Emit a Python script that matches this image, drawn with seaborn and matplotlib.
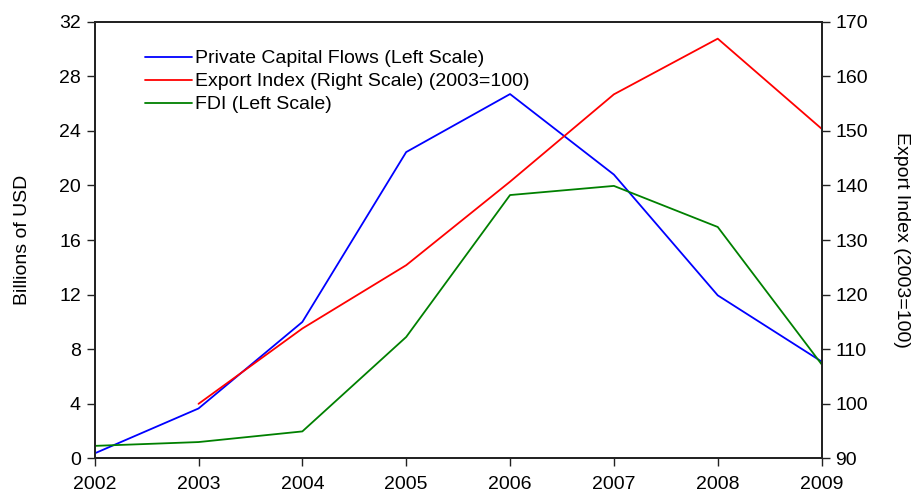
import matplotlib
matplotlib.use("Agg")
import matplotlib.pyplot as plt
import seaborn as sns
import pandas as pd

years = [2002, 2003, 2004, 2005, 2006, 2007, 2008, 2009]
private_flows = [0.37, 3.66, 10.0, 22.45, 26.7, 20.8, 11.95, 7.1]
fdi = [0.92, 1.2, 1.98, 8.9, 19.3, 19.97, 16.96, 6.9]
export_years = [2003, 2004, 2005, 2006, 2007, 2008, 2009]
export_index = [100.0, 113.8, 125.4, 140.7, 156.7, 166.9, 150.4]

left_ticks = [0, 4, 8, 12, 16, 20, 24, 28, 32]
right_ticks = [90, 100, 110, 120, 130, 140, 150, 160, 170]

sns.set_style("white")
plt.rcParams['font.family'] = ['Liberation Sans', 'DejaVu Sans']
plt.rcParams['text.color'] = 'black'
plt.rcParams['axes.labelcolor'] = 'black'
plt.rcParams['xtick.color'] = 'black'
plt.rcParams['ytick.color'] = 'black'

df_left = pd.DataFrame({"year": years, "pcf": private_flows, "fdi": fdi})
df_right = pd.DataFrame({"year": export_years, "exp": export_index})

fig, ax = plt.subplots(figsize=(9.19, 4.94), dpi=100)
fig.subplots_adjust(left=0.103, right=0.894, top=0.956, bottom=0.072)
ax2 = ax.twinx()

lw = 1.3
sns.lineplot(data=df_left, x="year", y="pcf", ax=ax, color="#0000ff", lw=lw,
             label="Private Capital Flows (Left Scale)", legend=False)
sns.lineplot(data=df_right, x="year", y="exp", ax=ax2, color="#ff0000", lw=lw,
             label="Export Index (Right Scale) (2003=100)", legend=False)
sns.lineplot(data=df_left, x="year", y="fdi", ax=ax, color="#008000", lw=lw,
             label="FDI (Left Scale)", legend=False)

fs = 14
ax.set_xlim(2002, 2009)
ax.set_ylim(0, 32)
ax2.set_ylim(90, 170)
ax.set_xticks(years)
ax.set_yticks(left_ticks)
ax2.set_yticks(right_ticks)
ax.set_xlabel("")
ax.set_ylabel("Billions of USD", fontsize=fs, labelpad=20)
ax2.set_ylabel("Export Index (2003=100)", fontsize=fs, rotation=270, labelpad=30)

for a in (ax, ax2):
    for s in a.spines.values():
        s.set_color("#222222")
        s.set_linewidth(1.3)
        s.set_visible(True)
ax.tick_params(axis="both", direction="out", length=6, width=1, color="#222222",
               labelsize=fs, labelcolor="black")
ax.tick_params(axis="y", left=True, pad=4)
ax.tick_params(axis="x", bottom=True, pad=7)
ax2.tick_params(axis="y", direction="out", length=6, width=1, color="#222222",
                labelsize=fs, right=True, labelcolor="black", pad=4)

h1, l1 = ax.get_legend_handles_labels()
h2, l2 = ax2.get_legend_handles_labels()
handles = [h1[0], h2[0], h1[1]]
labels = [l1[0], l2[0], l1[1]]
leg = ax2.legend(handles, labels, loc="upper left", bbox_to_anchor=(0.045, 0.976),
                 frameon=False, fontsize=fs, handlelength=2.4, handletextpad=0.2,
                 labelspacing=0.28)

fig.savefig("out.png", dpi=100)
